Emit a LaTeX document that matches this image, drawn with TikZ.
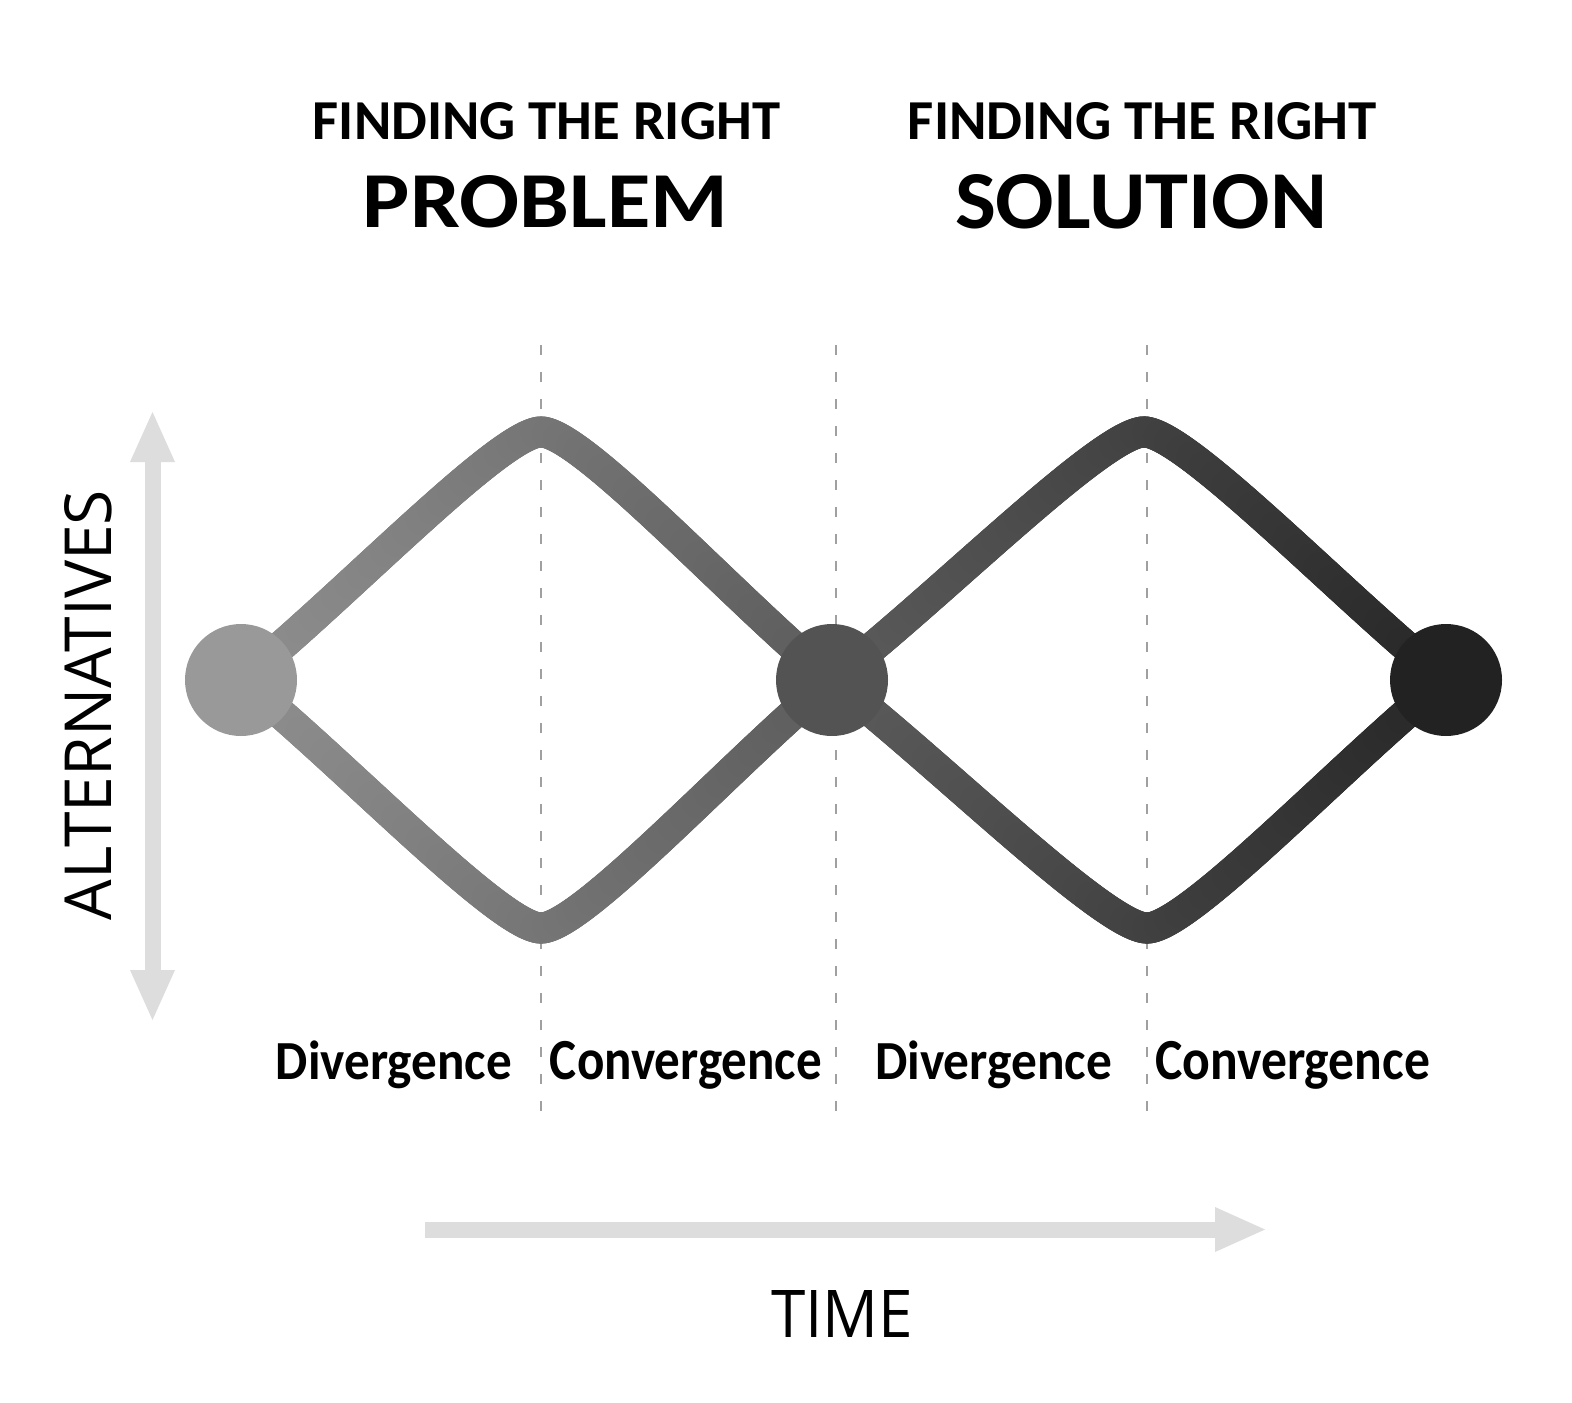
\documentclass[tikz,border=0pt]{standalone}
\usepackage{graphicx}
\usepackage{fontspec}
\setmainfont{Carlito}
\newfontfamily\axisfont{Open Sans}
\usetikzlibrary{arrows.meta,decorations.markings,backgrounds}
\definecolor{axisgray}{HTML}{DDDDDD}
\definecolor{dashgray}{HTML}{A0A0A0}
\definecolor{dotA}{HTML}{999999}
\definecolor{dotB}{HTML}{535353}
\definecolor{dotC}{HTML}{222222}
\tikzset{
  dot/.style={circle, inner sep=0pt, minimum size=56pt},
  txt/.style={inner sep=0pt, text=black},
  guide/.style={draw=dashgray, line width=1.35pt, dash pattern=on 5pt off 8.5pt},
  axisarrow/.style={draw=axisgray, line width=8pt,
    arrows={-Triangle[length=25pt,width=22.5pt,line width=0pt,fill=axisgray]}},
  gradline/.style={postaction={decorate}, decoration={markings,
    mark=between positions 0 and 1 step 1.5pt with {%
      \pgfpointtransformed{\pgfpointorigin}\pgfgetlastxy{\gxv}{\gyv}%
      \pgfmathsetmacro\gpv{100*(1-(144-(2*\gxv-240)/1203*104)/255)}%
      \draw[line width=15.5pt, line cap=round, black!\gpv] (-1pt,0pt) -- (1pt,0pt);
    }}}
}
\begin{document}
\begin{tikzpicture}[x=0.5pt,y=-0.5pt]
\useasboundingbox (0,0) rectangle (1572,1402);
% circles
\node[dot, fill=dotA] (c1) at (241,680) {};
\node[dot, fill=dotB] (c2) at (832,680) {};
\node[dot, fill=dotC] (c3) at (1446,680) {};
% turning points
\coordinate (p1) at (541,432);
\coordinate (v1) at (541,928);
\coordinate (p2) at (1144,432);
\coordinate (v2) at (1147,928);
% guide line ends
\coordinate (g1t) at (541,345);  \coordinate (g1b) at (541,1112);
\coordinate (g2t) at (836,345);  \coordinate (g2b) at (836,1112);
\coordinate (g3t) at (1147,345); \coordinate (g3b) at (1147,1112);
% axis ends
\coordinate (ya) at (152.5,1020); \coordinate (yb) at (152.5,412);
\coordinate (xa) at (425,1229.5); \coordinate (xb) at (1265,1229.5);
\begin{scope}[on background layer]
  \fill[white] (0,0) rectangle (1572,1402);
  \draw[guide] (g1t) -- (g1b);
  \draw[guide] (g2t) -- (g2b);
  \draw[guide] (g3t) -- (g3b);
  \draw[axisarrow, arrows={Triangle[length=25pt,width=22.5pt,line width=0pt,fill=axisgray]-Triangle[length=25pt,width=22.5pt,line width=0pt,fill=axisgray]}] (ya) -- (yb);
  \draw[axisarrow] (xa) -- (xb);
  % first diamond
  \path[gradline] (c1.center) .. controls +(100,-80) and +(-41,0) .. (p1);
  \path[gradline] (p1) .. controls +(41,0) and +(-97,-80) .. (c2.center);
  \path[gradline] (c1.center) .. controls +(100,80) and +(-41,0) .. (v1);
  \path[gradline] (v1) .. controls +(41,0) and +(-97,80) .. (c2.center);
  % second diamond
  \path[gradline] (c2.center) .. controls +(104,-80) and +(-42,0) .. (p2);
  \path[gradline] (p2) .. controls +(42,0) and +(-100,-80) .. (c3.center);
  \path[gradline] (c2.center) .. controls +(104,80) and +(-42,0) .. (v2);
  \path[gradline] (v2) .. controls +(42,0) and +(-100,80) .. (c3.center);
\end{scope}
% titles
\node[txt, anchor=base] (t1) at (546.5,140) {\resizebox{233.5pt}{18.5pt}{\bfseries FINDING THE RIGHT}};
\node[txt, anchor=base] (t2) at (545.5,227) {\resizebox{182.5pt}{26pt}{\bfseries PROBLEM}};
\node[txt, anchor=base] (t3) at (1142.5,140) {\resizebox{234.5pt}{18.5pt}{\bfseries FINDING THE RIGHT}};
\node[txt, anchor=base] (t4) at (1141,228) {\resizebox{186pt}{27pt}{\bfseries SOLUTION}};
% phase labels
\node[txt] (l1) at (394,1065) {\resizebox*{118pt}{24pt}{\bfseries Divergence}};
\node[txt] (l2) at (686,1065) {\resizebox*{136pt}{24pt}{\bfseries Convergence}};
\node[txt] (l3) at (993.5,1065) {\resizebox*{118.5pt}{24pt}{\bfseries Divergence}};
\node[txt] (l4) at (1292.5,1065) {\resizebox*{137.5pt}{24pt}{\bfseries Convergence}};
% axis labels
\node[txt, rotate=90] (alt) at (88.5,705) {\resizebox{215pt}{23.5pt}{\axisfont ALTERNATIVES}};
\node[txt] (time) at (842,1313.5) {\resizebox{71pt}{23.5pt}{\axisfont TIME}};
\end{tikzpicture}
\end{document}
